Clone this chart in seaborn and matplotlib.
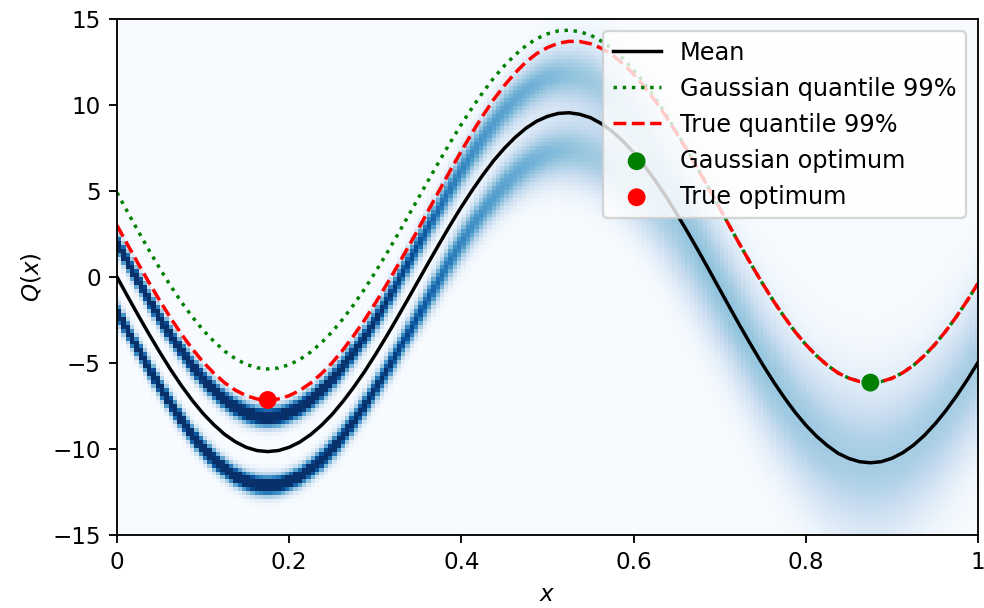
import numpy as np
import matplotlib
matplotlib.use("Agg")
import matplotlib.pyplot as plt
import seaborn as sns

# ---- data (x step 0.0125) ----
x_vals = [round(i * 0.0125, 4) for i in range(81)]
mean_vals = [0.00, -1.14, -2.26, -3.35, -4.40, -5.40, -6.33, -7.18, -7.94, -8.59,
             -9.15, -9.58, -9.90, -10.09, -10.15, -10.09, -9.90, -9.59, -9.16, -8.62,
             -7.98, -7.23, -6.40, -5.50, -4.52, -3.49, -2.42, -1.32, -0.21, 0.90,
             1.99, 3.06, 4.08, 5.04, 5.94, 6.77, 7.49, 8.12, 8.65, 9.06,
             9.34, 9.51, 9.55, 9.46, 9.26, 8.92, 8.47, 7.91, 7.24, 6.47,
             5.62, 4.69, 3.68, 2.63, 1.54, 0.42, -0.72, -1.85, -2.97, -4.05,
             -5.10, -6.09, -7.01, -7.86, -8.61, -9.26, -9.80, -10.25, -10.55, -10.74,
             -10.80, -10.74, -10.54, -10.22, -9.78, -9.22, -8.55, -7.78, -6.92, -5.98,
             -4.97]
gauss_q = [4.90, 3.76, 2.63, 1.53, 0.47, -0.53, -1.47, -2.32, -3.09, -3.74,
           -4.31, -4.75, -5.08, -5.28, -5.35, -5.29, -5.10, -4.79, -4.36, -3.82,
           -3.18, -2.43, -1.60, -0.70, 0.28, 1.31, 2.38, 3.48, 4.59, 5.70,
           6.79, 7.86, 8.88, 9.84, 10.74, 11.57, 12.29, 12.92, 13.45, 13.86,
           14.14, 14.31, 14.35, 14.26, 14.06, 13.72, 13.27, 12.71, 12.04, 11.26,
           10.40, 9.46, 8.43, 7.37, 6.27, 5.14, 4.00, 2.86, 1.74, 0.65,
           -0.40, -1.40, -2.32, -3.18, -3.93, -4.58, -5.13, -5.58, -5.88, -6.08,
           -6.14, -6.08, -5.89, -5.57, -5.14, -4.58, -3.92, -3.15, -2.30, -1.37,
           -0.37]
true_q = [3.00, 1.86, 0.74, -0.35, -1.40, -2.40, -3.33, -4.18, -4.94, -5.59,
          -6.15, -6.58, -6.90, -7.09, -7.15, -7.09, -6.90, -6.59, -6.16, -5.62,
          -4.98, -4.23, -3.40, -2.50, -1.52, -0.49, 0.58, 1.68, 2.79, 3.95,
          5.09, 6.23, 7.33, 8.39, 9.39, 10.32, 11.14, 11.87, 12.50, 12.99,
          13.34, 13.59, 13.70, 13.69, 13.56, 13.30, 12.92, 12.41, 11.79, 11.06,
          10.24, 9.34, 8.35, 7.32, 6.24, 5.13, 4.00, 2.86, 1.74, 0.65,
          -0.40, -1.40, -2.32, -3.18, -3.93, -4.58, -5.13, -5.58, -5.88, -6.08,
          -6.14, -6.08, -5.89, -5.57, -5.14, -4.58, -3.92, -3.15, -2.30, -1.37,
          -0.37]

# density shape: two modes at mean +/- offset, each with a spread
param_x = [round(i * 0.05, 2) for i in range(21)]
mode_offset = [2.0, 2.0, 2.0, 2.0, 2.0, 2.0, 2.0, 2.05, 2.1, 2.15,
               2.2, 2.2, 2.0, 1.6, 1.1, 0.6, 0.3, 0.1, 0.0, 0.0, 0.0]
mode_spread = [0.40, 0.40, 0.40, 0.40, 0.40, 0.45, 0.50, 0.59, 0.77, 0.95,
               1.15, 1.40, 1.65, 1.95, 2.3, 2.6, 2.8, 3.0, 3.0, 3.0, 3.0]

x_ticks = [0, 0.2, 0.4, 0.6, 0.8, 1]
x_ticklabels = ["0", "0.2", "0.4", "0.6", "0.8", "1"]
y_ticks = [-15, -10, -5, 0, 5, 10, 15]

# ---- density image ----
nx, ny = 200, 130
xc = (np.arange(nx) + 0.5) / nx
yc = -15 + (np.arange(ny) + 0.5) * 30.0 / ny
m = np.interp(xc, x_vals, mean_vals)
a = np.interp(xc, param_x, mode_offset)
s = np.interp(xc, param_x, mode_spread)
Y = yc[:, None]


def npdf(v, mu, sd):
    return np.exp(-0.5 * ((v - mu) / sd) ** 2) / (sd * np.sqrt(2 * np.pi))


Z = 0.5 * npdf(Y, m + a, s) + 0.5 * npdf(Y, m - a, s)

# ---- figure ----
DPI = 166
fig = plt.figure(figsize=(984 / DPI, 608 / DPI), dpi=DPI)
ax = fig.add_axes([117 / 984, 73 / 608, 861 / 984, 516 / 608])

ax.imshow(Z, extent=[0, 1, -15, 15], origin="lower", aspect="auto",
          cmap="Blues", vmin=0, vmax=0.38, interpolation="nearest", zorder=0)

sns.lineplot(x=x_vals, y=mean_vals, color="k", linewidth=1.5, label="Mean", ax=ax)
sns.lineplot(x=x_vals, y=gauss_q, color="g", linewidth=1.5, linestyle=":",
             label="Gaussian quantile 99%", ax=ax)
sns.lineplot(x=x_vals, y=true_q, color="r", linewidth=1.5, linestyle="--",
             label="True quantile 99%", ax=ax)

gi = int(np.argmin(gauss_q))
ti = int(np.argmin(true_q))
sns.scatterplot(x=[x_vals[gi]], y=[gauss_q[gi]], color="g", s=60, edgecolor="none",
                label="Gaussian optimum", ax=ax, zorder=4)
sns.scatterplot(x=[x_vals[ti]], y=[true_q[ti]], color="r", s=60, edgecolor="none",
                label="True optimum", ax=ax, zorder=4)

ax.set_xlim(0, 1)
ax.set_ylim(-15, 15)
ax.set_xticks(x_ticks)
ax.set_xticklabels(x_ticklabels)
ax.set_yticks(y_ticks)
ax.set_xlabel("$x$")
ax.set_ylabel("$Q(x)$")
ax.legend(loc="upper right", fontsize=10.4)

fig.savefig("out.png", dpi=DPI)
